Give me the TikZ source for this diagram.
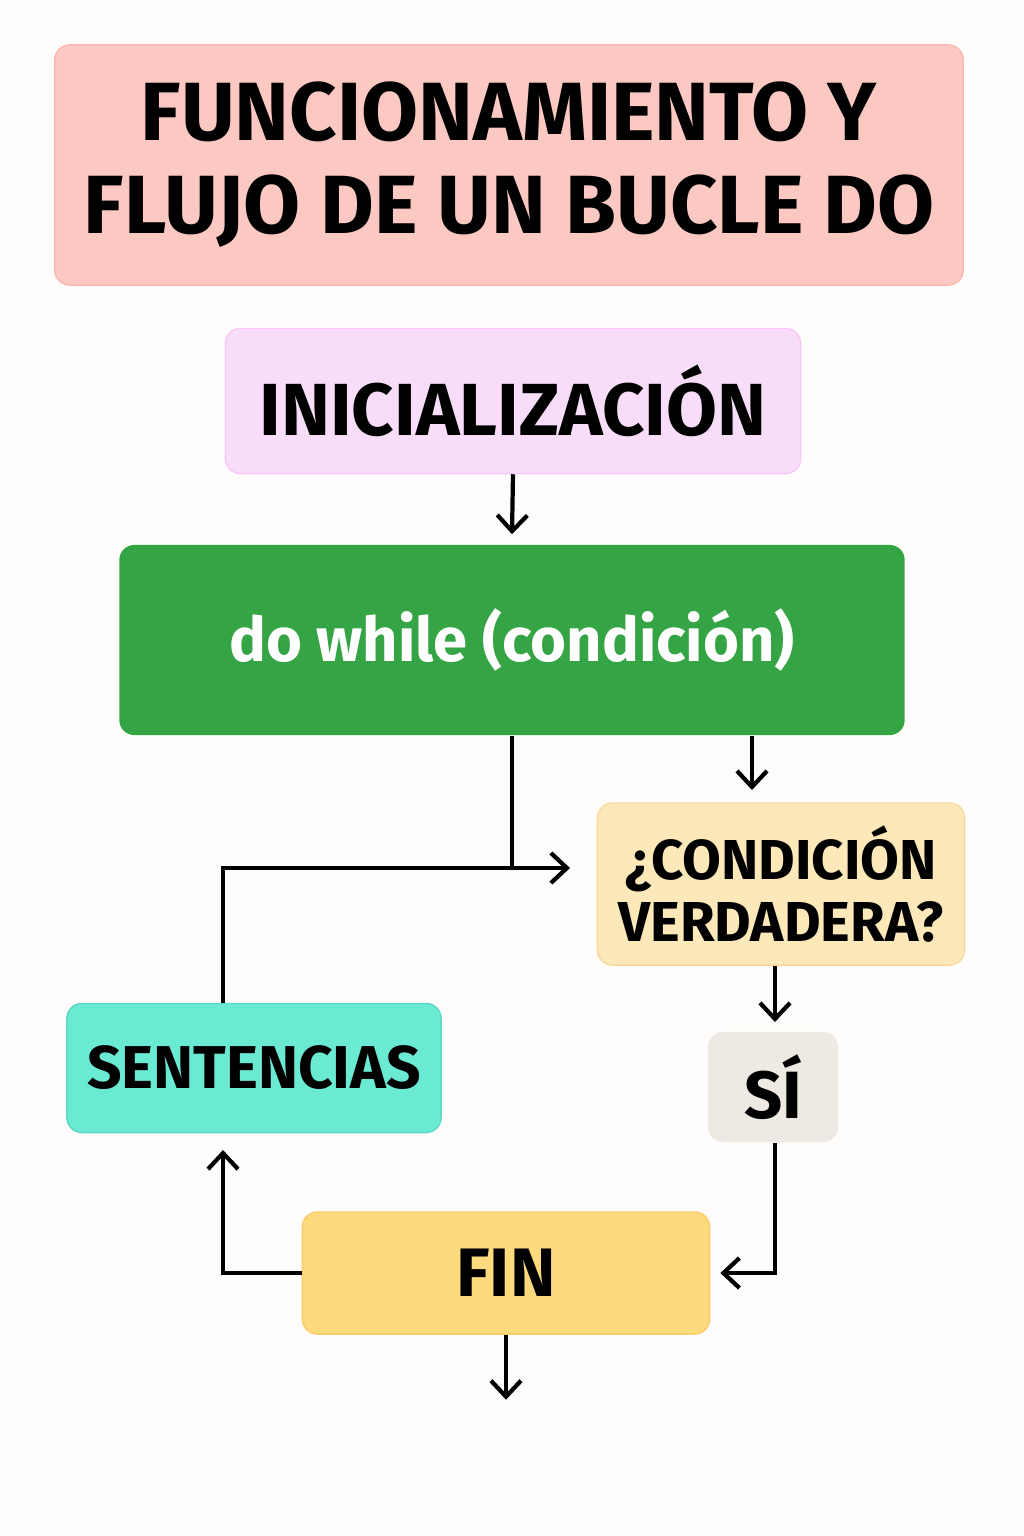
\documentclass[tikz,border=0pt]{standalone}
\usepackage{fontspec}
\setmainfont{Fira Sans}
\usetikzlibrary{arrows.meta}
\definecolor{bgcol}{HTML}{FEFDFB}
\definecolor{titlecol}{HTML}{FCC9C2}
\definecolor{initcol}{HTML}{F8DDF9}
\definecolor{loopcol}{HTML}{34A445}
\definecolor{condcol}{HTML}{FDE8B9}
\definecolor{sicol}{HTML}{EEEAE3}
\definecolor{fincol}{HTML}{FDDA7E}
\definecolor{sentcol}{HTML}{6AE9D3}
\tikzset{
  box/.style={rounded corners=0.15cm, inner sep=0pt, align=center, font=\bfseries},
  flow/.style={line width=1.2pt, -{Straight Barb[length=1.6mm,width=3mm,line width=1.2pt]}}
}
\begin{document}
\begin{tikzpicture}[x=0.01cm, y=-0.01cm]
    \fill[bgcol](0,0)rectangle(1024,1536);
    \useasboundingbox(0,0)rectangle(1024,1536);
\node[box, fill=titlecol, draw=titlecol!90!red, minimum width=9.08cm, minimum height=2.40cm, font=\bfseries\fontsize{23.5}{26.5}\selectfont] (title) at (509,165){FUNCIONAMIENTO Y\\FLUJO DE UN BUCLE DO};
\node[box, fill=initcol, draw=initcol!90!magenta, minimum width=5.75cm, minimum height=1.45cm, font=\bfseries\fontsize{21}{25}\selectfont] (init) at (513,401){INICIALIZACIÓN};
\node[box, fill=loopcol, minimum width=7.85cm, minimum height=1.90cm, text=white, font=\bfseries\fontsize{17.5}{21}\selectfont] (dowhile) at (512,640){do while (condición)};
\node[box, fill=condcol, draw=condcol!85!orange, minimum width=3.67cm, minimum height=1.62cm, font=\bfseries\fontsize{16}{17.8}\selectfont] (cond) at (781,884){¿CONDICIÓN\\VERDADERA?};
\node[box, fill=sicol, minimum width=1.30cm, minimum height=1.10cm, font=\bfseries\fontsize{19}{23}\selectfont] (si) at (773,1087){SÍ};
\node[box, fill=fincol, draw=fincol!85!orange, minimum width=4.07cm, minimum height=1.22cm, font=\bfseries\fontsize{19.5}{23}\selectfont] (fin) at (506,1273){FIN};
\node[box, fill=sentcol, draw=sentcol!85!teal, minimum width=3.74cm, minimum height=1.29cm, font=\bfseries\fontsize{17.2}{21}\selectfont] (sent) at (254,1068){SENTENCIAS};
    \coordinate (loopin) at (570,868);
    \coordinate (loopup) at (223,1150);
    \draw[flow](init.south)--([yshift=0.10cm]dowhile.north);
    \draw[line width=1.2pt](dowhile.south)--(dowhile.south|-loopin);
    \draw[flow](sent.north-|loopup)|-(loopin);
    \draw[flow](dowhile.south-|752,0)--(752,790);
    \draw[flow](cond.south-|775,0)--(775,1022);
    \draw[flow](si.south-|775,0)|-([xshift=0.10cm]fin.east);
    \draw[flow](fin.west)-|(loopup);
    \draw[flow](fin.south)--++(0,65);
    \end{tikzpicture}
\end{document}
